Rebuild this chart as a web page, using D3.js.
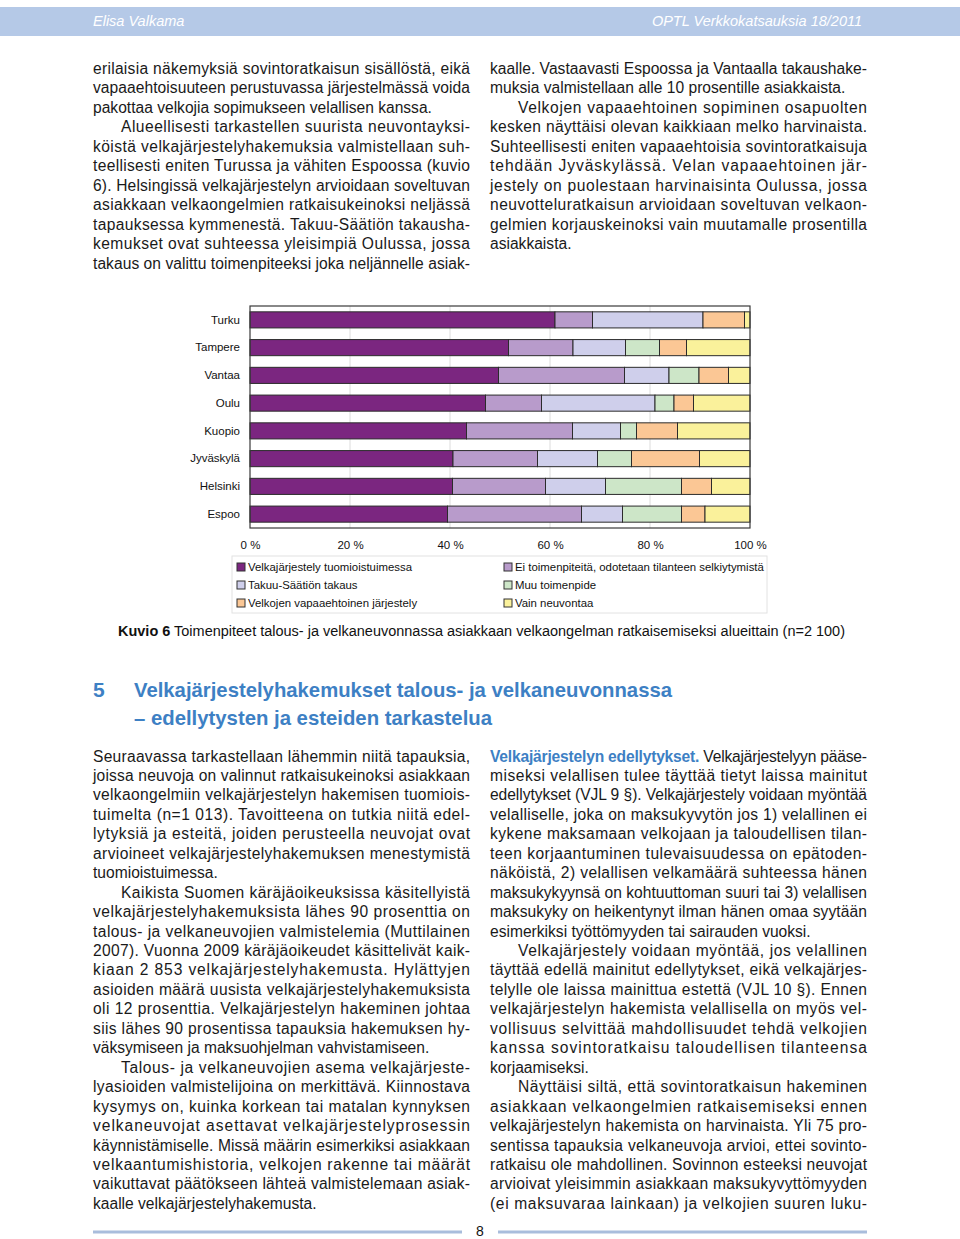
<!DOCTYPE html>
<html><head><meta charset="utf-8">
<script src="https://cdn.jsdelivr.net/npm/d3@7"></script>
<style>
html,body{margin:0;padding:0;background:#fff;}
svg{display:block;font-family:"Liberation Sans",Arial,sans-serif;}
</style></head>
<body>
<svg id="page" width="960" height="1239"></svg>
<script>
// ---------- DATA ----------
const categories = ["Turku","Tampere","Vantaa","Oulu","Kuopio","Jyväskylä","Helsinki","Espoo"];
const seriesNames = ["Velkajärjestely tuomioistuimessa","Ei toimenpiteitä, odotetaan tilanteen selkiytymistä","Takuu-Säätiön takaus","Muu toimenpide","Velkojen vapaaehtoinen järjestely","Vain neuvontaa"];
const velkajarjestely = [61.0, 51.7, 49.7, 47.1, 43.3, 40.6, 40.5, 39.5];
const eiToimenpiteita = [7.5, 12.9, 25.2, 11.2, 21.2, 16.9, 18.6, 26.8];
const takuuSaatio     = [22.1, 10.5, 8.9, 22.7, 9.6, 12.0, 12.0, 8.2];
const muuToimenpide   = [0.0, 6.8, 6.0, 3.8, 3.2, 6.8, 15.2, 11.8];
const vapaaehtoinen   = [8.3, 5.4, 5.9, 3.9, 8.2, 13.6, 6.0, 4.7];
const vainNeuvontaa   = [1.1, 12.7, 4.3, 11.3, 14.5, 10.1, 7.7, 9.0];
const tickValues = [0, 20, 40, 60, 80, 100];
const colors = ["#7b2680","#b89bcb","#cfcfeb","#cde6c8","#fbc795","#faf19b"];

const seriesValues = [velkajarjestely, eiToimenpiteita, takuuSaatio, muuToimenpide, vapaaehtoinen, vainNeuvontaa];
const table = categories.map((c, i) => {
  const row = {category: c};
  seriesNames.forEach((s, j) => row[s] = seriesValues[j][i]);
  return row;
});

const svg = d3.select("#page");

// ---------- HEADER ----------
svg.append("rect").attr("x",0).attr("y",7).attr("width",960).attr("height",29).attr("fill","#b5c9e7");
svg.append("text").attr("x",93).attr("y",26).attr("font-size",14.5).attr("font-style","italic")
  .attr("fill","#ffffff").text("Elisa Valkama");
svg.append("text").attr("x",862).attr("y",26).attr("font-size",14.5).attr("font-style","italic")
  .attr("text-anchor","end").attr("fill","#ffffff").text("OPTL Verkkokatsauksia 18/2011");

// ---------- BODY TEXT helper ----------
const LH = 19.45;
const FS = 15.6;
function column(x0, x1, y0, lines, lh) {
  lines.forEach((ln, i) => {
    const [txt, justify, indent, parts] = ln;
    const x = x0 + (indent ? 28 : 0);
    const t = svg.append("text").attr("x", x).attr("y", y0 + i * lh)
      .attr("font-size", FS).attr("fill", "#1a1a1a");
    if (parts) {
      parts.forEach(p => t.append("tspan").attr("fill", p[1] || "#1a1a1a")
        .attr("font-weight", p[2] || "normal").text(p[0]));
    } else t.text(txt);
    if (justify) t.attr("textLength", x1 - x).attr("lengthAdjust", "spacing");
  });
}

column(93, 470, 73.5, [
  ["erilaisia näkemyksiä sovintoratkaisun sisällöstä, eikä", 1],
  ["vapaaehtoisuuteen perustuvassa järjestelmässä voida", 1],
  ["pakottaa velkojia sopimukseen velallisen kanssa.", 0],
  ["Alueellisesti tarkastellen suurista neuvontayksi-", 1, 1],
  ["köistä velkajärjestelyhakemuksia valmistellaan suh-", 1],
  ["teellisesti eniten Turussa ja vähiten Espoossa (kuvio", 1],
  ["6). Helsingissä velkajärjestelyn arvioidaan soveltuvan", 1],
  ["asiakkaan velkaongelmien ratkaisukeinoksi neljässä", 1],
  ["tapauksessa kymmenestä. Takuu-Säätiön takausha-", 1],
  ["kemukset ovat suhteessa yleisimpiä Oulussa, jossa", 1],
  ["takaus on valittu toimenpiteeksi joka neljännelle asiak-", 1]
], 19.5);

column(490, 867, 73.5, [
  ["kaalle. Vastaavasti Espoossa ja Vantaalla takaushake-", 1],
  ["muksia valmistellaan alle 10 prosentille asiakkaista.", 0],
  ["Velkojen vapaaehtoinen sopiminen osapuolten", 1, 1],
  ["kesken näyttäisi olevan kaikkiaan melko harvinaista.", 1],
  ["Suhteellisesti eniten vapaaehtoisia sovintoratkaisuja", 1],
  ["tehdään Jyväskylässä. Velan vapaaehtoinen jär-", 1],
  ["jestely on puolestaan harvinaisinta Oulussa, jossa", 1],
  ["neuvotteluratkaisun arvioidaan soveltuvan velkaon-", 1],
  ["gelmien korjauskeinoksi vain muutamalle prosentilla", 1],
  ["asiakkaista.", 0]
], 19.5);

// ---------- CHART ----------
const x = d3.scaleLinear().domain([0, 100]).range([250, 750]);
const y = d3.scaleBand().domain(categories).range([306, 528]).paddingInner(0.42).paddingOuter(0.21);

const g = svg.append("g");
// grid
g.selectAll("line.grid").data(tickValues.filter(d => d > 0 && d < 100)).join("line")
  .attr("x1", d => x(d)).attr("x2", d => x(d)).attr("y1", 306).attr("y2", 528)
  .attr("stroke", "#dcdcdc").attr("stroke-width", 1);

const stack = d3.stack().keys(seriesNames);
const stacked = stack(table);
g.selectAll("g.series").data(stacked).join("g")
  .attr("fill", (d, i) => colors[i])
  .selectAll("rect").data(d => d.filter(s => s[1] - s[0] > 0)).join("rect")
  .attr("x", d => x(d[0])).attr("width", d => x(d[1]) - x(d[0]))
  .attr("y", d => y(d.data.category)).attr("height", y.bandwidth())
  .attr("stroke", "#2b2b2b").attr("stroke-width", 1);

// frame
g.append("rect").attr("x", 250).attr("y", 306).attr("width", 500).attr("height", 222)
  .attr("fill", "none").attr("stroke", "#3a3a3a").attr("stroke-width", 1.2);

// axes
const yAxis = d3.axisLeft(y).tickSize(0).tickPadding(10);
const ya = g.append("g").attr("transform", "translate(250,0)").call(yAxis);
ya.select(".domain").remove();
ya.selectAll("text").attr("font-size", 11.5).attr("font-family", "Liberation Sans, Arial, sans-serif").attr("fill", "#111");

const xAxis = d3.axisBottom(x).tickValues(tickValues).tickFormat(d => d + " %").tickSize(0).tickPadding(0);
const xa = g.append("g").attr("transform", "translate(0,541)").call(xAxis);
xa.select(".domain").remove();
xa.selectAll("text").attr("font-size", 11.5).attr("font-family", "Liberation Sans, Arial, sans-serif").attr("fill", "#111");

// legend
g.append("rect").attr("x", 232).attr("y", 556).attr("width", 535).attr("height", 57)
  .attr("fill", "none").attr("stroke", "#e2e2e2");
const leg = g.selectAll("g.leg").data(seriesNames).join("g")
  .attr("transform", (d, i) => `translate(${i % 2 === 0 ? 237 : 504},${567 + Math.floor(i / 2) * 18})`);
leg.append("rect").attr("x", 0).attr("y", -4).attr("width", 8).attr("height", 8)
  .attr("fill", (d, i) => colors[i]).attr("stroke", "#333").attr("stroke-width", 1);
leg.append("text").attr("x", 11).attr("y", 4).attr("font-size", 11.4).attr("fill", "#111").text(d => d);

// caption
const cap = svg.append("text").attr("x", 118).attr("y", 636).attr("font-size", 14)
  .attr("font-family", "'Liberation Sans Narrow','Arial Narrow','Liberation Sans',sans-serif")
  .attr("textLength", 727).attr("lengthAdjust", "spacingAndGlyphs").attr("fill", "#111");
cap.append("tspan").attr("font-weight", "bold").text("Kuvio 6");
cap.append("tspan").text(" Toimenpiteet talous- ja velkaneuvonnassa asiakkaan velkaongelman ratkaisemiseksi alueittain (n=2 100)");

// ---------- SECTION HEADING ----------
const headBlue = "#3d80c4";
const hf = "'Liberation Sans Narrow','Arial Narrow','Liberation Sans',sans-serif";
svg.append("text").attr("x", 93).attr("y", 697).attr("font-size", 21).attr("font-weight", "bold")
  .attr("font-family", hf).attr("fill", headBlue).text("5");
svg.append("text").attr("x", 134).attr("y", 697).attr("font-size", 21).attr("font-weight", "bold")
  .attr("font-family", hf).attr("fill", headBlue).attr("textLength", 538).attr("lengthAdjust", "spacingAndGlyphs")
  .text("Velkajärjestelyhakemukset talous- ja velkaneuvonnassa");
svg.append("text").attr("x", 134).attr("y", 725).attr("font-size", 21).attr("font-weight", "bold")
  .attr("font-family", hf).attr("fill", headBlue).attr("textLength", 358).attr("lengthAdjust", "spacingAndGlyphs")
  .text("– edellytysten ja esteiden tarkastelua");

// ---------- LOWER COLUMNS ----------
column(93, 470, 761.5, [
  ["Seuraavassa tarkastellaan lähemmin niitä tapauksia,", 1],
  ["joissa neuvoja on valinnut ratkaisukeinoksi asiakkaan", 1],
  ["velkaongelmiin velkajärjestelyn hakemisen tuomiois-", 1],
  ["tuimelta (n=1 013). Tavoitteena on tutkia niitä edel-", 1],
  ["lytyksiä ja esteitä, joiden perusteella neuvojat ovat", 1],
  ["arvioineet velkajärjestelyhakemuksen menestymistä", 1],
  ["tuomioistuimessa.", 0],
  ["Kaikista Suomen käräjäoikeuksissa käsitellyistä", 1, 1],
  ["velkajärjestelyhakemuksista lähes 90 prosenttia on", 1],
  ["talous- ja velkaneuvojien valmistelemia (Muttilainen", 1],
  ["2007). Vuonna 2009 käräjäoikeudet käsittelivät kaik-", 1],
  ["kiaan 2 853 velkajärjestelyhakemusta. Hylättyjen", 1],
  ["asioiden määrä uusista velkajärjestelyhakemuksista", 1],
  ["oli 12 prosenttia. Velkajärjestelyn hakeminen johtaa", 1],
  ["siis lähes 90 prosentissa tapauksia hakemuksen hy-", 1],
  ["väksymiseen ja maksuohjelman vahvistamiseen.", 0],
  ["Talous- ja velkaneuvojien asema velkajärjeste-", 1, 1],
  ["lyasioiden valmistelijoina on merkittävä. Kiinnostava", 1],
  ["kysymys on, kuinka korkean tai matalan kynnyksen", 1],
  ["velkaneuvojat asettavat velkajärjestelyprosessin", 1],
  ["käynnistämiselle. Missä määrin esimerkiksi asiakkaan", 1],
  ["velkaantumishistoria, velkojen rakenne tai määrät", 1],
  ["vaikuttavat päätökseen lähteä valmistelemaan asiak-", 1],
  ["kaalle velkajärjestelyhakemusta.", 0]
], LH);

column(490, 867, 761.5, [
  ["", 1, 0, [["Velkajärjestelyn edellytykset.", headBlue, "bold"], [" Velkajärjestelyyn pääse-"]]],
  ["miseksi velallisen tulee täyttää tietyt laissa mainitut", 1],
  ["edellytykset (VJL 9 §). Velkajärjestely voidaan myöntää", 1],
  ["velalliselle, joka on maksukyvytön jos 1) velallinen ei", 1],
  ["kykene maksamaan velkojaan ja taloudellisen tilan-", 1],
  ["teen korjaantuminen tulevaisuudessa on epätoden-", 1],
  ["näköistä, 2) velallisen velkamäärä suhteessa hänen", 1],
  ["maksukykyynsä on kohtuuttoman suuri tai 3) velallisen", 1],
  ["maksukyky on heikentynyt ilman hänen omaa syytään", 1],
  ["esimerkiksi työttömyyden tai sairauden vuoksi.", 0],
  ["Velkajärjestely voidaan myöntää, jos velallinen", 1, 1],
  ["täyttää edellä mainitut edellytykset, eikä velkajärjes-", 1],
  ["telylle ole laissa mainittua estettä (VJL 10 §). Ennen", 1],
  ["velkajärjestelyn hakemista velallisella on myös vel-", 1],
  ["vollisuus selvittää mahdollisuudet tehdä velkojien", 1],
  ["kanssa sovintoratkaisu taloudellisen tilanteensa", 1],
  ["korjaamiseksi.", 0],
  ["Näyttäisi siltä, että sovintoratkaisun hakeminen", 1, 1],
  ["asiakkaan velkaongelmien ratkaisemiseksi ennen", 1],
  ["velkajärjestelyn hakemista on harvinaista. Yli 75 pro-", 1],
  ["sentissa tapauksia velkaneuvoja arvioi, ettei sovinto-", 1],
  ["ratkaisu ole mahdollinen. Sovinnon esteeksi neuvojat", 1],
  ["arvioivat yleisimmin asiakkaan maksukyvyttömyyden", 1],
  ["(ei maksuvaraa lainkaan) ja velkojien suuren luku-", 1]
], LH);

// ---------- FOOTER ----------
svg.append("line").attr("x1", 93).attr("x2", 462).attr("y1", 1232).attr("y2", 1232).attr("stroke", "#a9bddc").attr("stroke-width", 3);
svg.append("line").attr("x1", 498).attr("x2", 867).attr("y1", 1232).attr("y2", 1232).attr("stroke", "#a9bddc").attr("stroke-width", 3);
svg.append("text").attr("x", 480).attr("y", 1236).attr("text-anchor", "middle").attr("font-size", 14).attr("fill", "#111").text("8");
</script>
</body></html>
